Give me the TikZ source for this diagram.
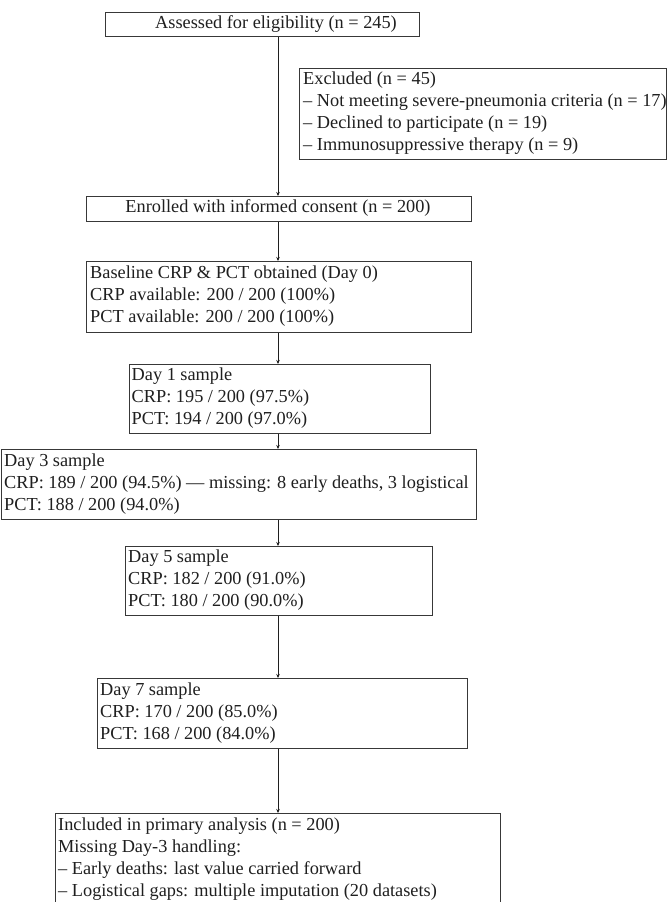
\documentclass[tikz,border=0pt]{standalone}
\usepackage{fontspec}
\setmainfont{Liberation Serif}
\usetikzlibrary{arrows.meta}
\begin{document}
\begin{tikzpicture}[x=1pt,y=-1pt,
  box/.style={draw=black!78, line width=1.2pt, inner sep=0pt, anchor=north west, fill=white},
  txt/.style={inner sep=0pt, align=left, anchor=west, font=\fontsize{18.3}{22}\selectfont, text=black!88},
  ctxt/.style={inner sep=0pt, align=center, anchor=center, font=\fontsize{18.3}{22}\selectfont, text=black!88},
  arr/.style={draw=black!88, line width=0.9pt, -{Stealth[length=4pt,width=3.5pt]}}]
\useasboundingbox (0,0) rectangle (668,902);
\fill[white] (0,0) rectangle (668,902);
\coordinate (spine) at (278,0);

% boxes
\node[box, minimum width=314pt, minimum height=24pt] (assess) at (105,12) {};
\node[ctxt] (assesst) at (276,24) {Assessed for eligibility (n = 245)};

\node[box, minimum width=367pt, minimum height=91pt] (excl) at (299,68) {};
\node[txt] (exclt) at (303,113.5) {Excluded (n = 45)\\
– Not meeting severe-pneumonia criteria (n = 17)\\
– Declined to participate (n = 19)\\
– Immunosuppressive therapy (n = 9)};

\node[box, minimum width=385pt, minimum height=25pt] (enrol) at (86,196) {};
\node[ctxt] (enrolt) at (278,208.5) {Enrolled with informed consent (n = 200)};

\node[box, minimum width=385pt, minimum height=71pt] (base) at (86,261) {};
\node[txt] (baset) at (90,296.5) {Baseline CRP \& PCT obtained (Day 0)\\
CRP available: 200 / 200 (100\%)\\
PCT available: 200 / 200 (100\%)};

\node[box, minimum width=301pt, minimum height=69pt] (d1) at (129,364) {};
\node[txt] (d1t) at (131.5,398.5) {Day 1 sample\\
CRP: 195 / 200 (97.5\%)\\
PCT: 194 / 200 (97.0\%)};

\node[box, minimum width=475pt, minimum height=70pt] (d3) at (1,449) {};
\node[txt] (d3t) at (4,484) {Day 3 sample\\
CRP: 189 / 200 (94.5\%) — missing: 8 early deaths, 3 logistical\\
PCT: 188 / 200 (94.0\%)};

\node[box, minimum width=307pt, minimum height=69pt] (d5) at (125,546) {};
\node[txt] (d5t) at (128,580.5) {Day 5 sample\\
CRP: 182 / 200 (91.0\%)\\
PCT: 180 / 200 (90.0\%)};

\node[box, minimum width=370pt, minimum height=70pt] (d7) at (97,678) {};
\node[txt] (d7t) at (100,713) {Day 7 sample\\
CRP: 170 / 200 (85.0\%)\\
PCT: 168 / 200 (84.0\%)};

\node[box, minimum width=445pt, minimum height=92pt] (incl) at (55,813) {};
\node[txt] (inclt) at (58,859) {Included in primary analysis (n = 200)\\
Missing Day-3 handling:\\
– Early deaths: last value carried forward\\
– Logistical gaps: multiple imputation (20 datasets)};

% connectors
\draw[arr] (assess.south -| spine) -- (enrol.north -| spine);
\draw[arr] (enrol.south -| spine) -- (base.north -| spine);
\draw[arr] (base.south -| spine) -- (d1.north -| spine);
\draw[arr] (d1.south -| spine) -- (d3.north -| spine);
\draw[arr] (d3.south -| spine) -- (d5.north -| spine);
\draw[arr] (d5.south -| spine) -- (d7.north -| spine);
\draw[arr] (d7.south -| spine) -- (incl.north -| spine);
\end{tikzpicture}
\end{document}
